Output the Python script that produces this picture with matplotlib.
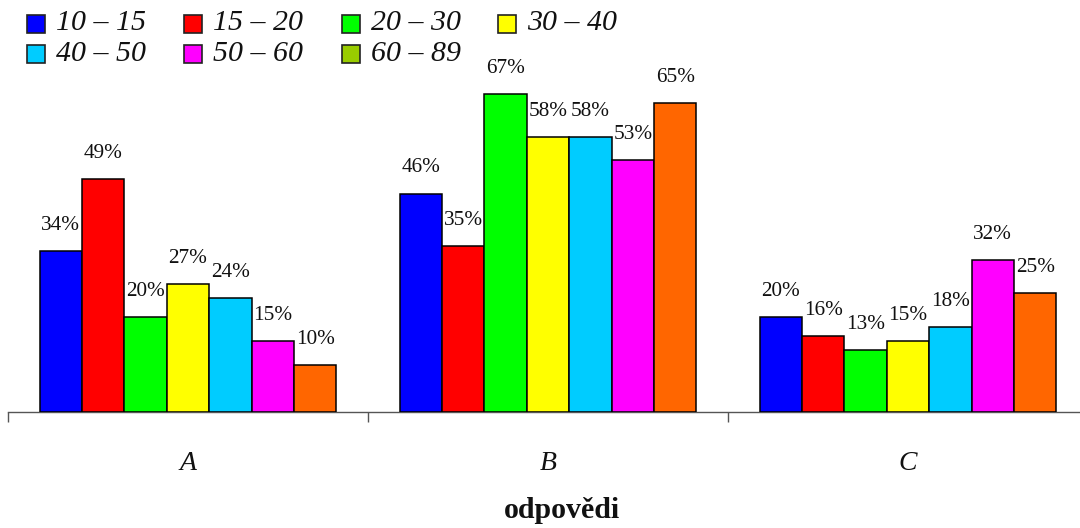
import matplotlib
matplotlib.use("Agg")
import matplotlib.pyplot as plt
from matplotlib import transforms
from matplotlib.patches import Rectangle

# Answer categories and respondent age groups
categories = ["A", "B", "C"]
age_groups = ["10 – 15", "15 – 20", "20 – 30", "30 – 40", "40 – 50", "50 – 60", "60 – 89"]

# Share of answers (%) per age group, in category order A, B, C
age_10_15 = [34, 46, 20]
age_15_20 = [49, 35, 16]
age_20_30 = [20, 67, 13]
age_30_40 = [27, 58, 15]
age_40_50 = [24, 58, 18]
age_50_60 = [15, 53, 32]
age_60_89 = [10, 65, 25]

series = [age_10_15, age_15_20, age_20_30, age_30_40, age_40_50, age_50_60, age_60_89]
bar_colors = ["#0000FF", "#FF0000", "#00FF00", "#FFFF00", "#00CCFF", "#FF00FF", "#FF6600"]
legend_colors = ["#0000FF", "#FF0000", "#00FF00", "#FFFF00", "#00CCFF", "#FF00FF", "#99CC00"]

W, H = 1080, 528
fig = plt.figure(figsize=(W / 100, H / 100), dpi=100)
plt.rcParams["font.family"] = ["Liberation Serif", "DejaVu Serif"]

# Plot area in pixel units: baseline at y=412, 4.75 px per percent
ax_left, ax_right = 8, 1088
base_y = 412
px_per_pct = 4.75
ymax = 70
ax = fig.add_axes([ax_left / W, (H - base_y) / H,
                   (ax_right - ax_left) / W, ymax * px_per_pct / H])
ax.set_xlim(0, len(categories))
ax.set_ylim(0, ymax)

bar_w = 42.4 / 360.0
n = len(series)
for j, (vals, col) in enumerate(zip(series, bar_colors)):
    xs = [i + 0.5 + (j - (n - 1) / 2) * bar_w for i in range(len(categories))]
    ax.bar(xs, vals, width=bar_w, color=col, edgecolor="black", linewidth=1.1, zorder=3)
    for x, v in zip(xs, vals):
        ax.annotate(f"{v}%", (x, v), xytext=(0, 25.5 * 0.72), textcoords="offset points",
                    ha="center", va="center", fontsize=15.3, color="#111111", zorder=4)

# Axis: only the bottom line with boundary ticks between categories
for s in ["top", "right", "left"]:
    ax.spines[s].set_visible(False)
ax.spines["bottom"].set_color("#555555")
ax.spines["bottom"].set_linewidth(1.0)
ax.set_yticks([])
ax.set_xticks(range(len(categories) + 1))
ax.set_xticklabels([])
ax.tick_params(axis="x", direction="out", length=7.2, width=1.0, color="#555555")

# Category labels under each group
blend = transforms.blended_transform_factory(ax.transData, fig.transFigure)
for i, c in enumerate(categories):
    ax.text(i + 0.5, 1 - 463 / H, c, transform=blend, ha="center", va="center",
            fontsize=20, fontstyle="italic", color="#111111")

fig.text(562 / W, 1 - 511 / H, "odpovědi", ha="center", va="center",
         fontsize=21.5, fontweight="bold", color="#111111")

# Legend: four columns, filled row by row
col_x = [27, 184, 342, 498]
row_y = [23.5, 54]
sw = 18
for k, (lab, col) in enumerate(zip(age_groups, legend_colors)):
    r, c = divmod(k, 4)
    x0, yc = col_x[c], row_y[r]
    fig.patches.append(Rectangle((x0 / W, 1 - (yc + sw / 2) / H), sw / W, sw / H,
                                 transform=fig.transFigure, facecolor=col,
                                 edgecolor="#222222", linewidth=1.2))
    fig.text((x0 + sw + 11) / W, 1 - yc / H, lab, ha="left", va="center",
             fontsize=21.5, fontstyle="italic", color="#111111")

fig.savefig("out.png", dpi=100)
